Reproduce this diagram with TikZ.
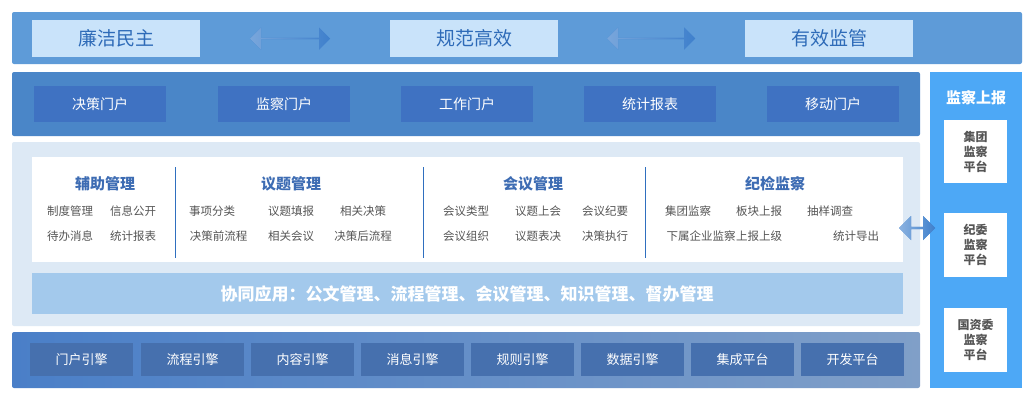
\documentclass[tikz,border=0pt]{standalone}
\usepackage{fontspec}
\setmainfont{Noto Sans CJK SC}
\usetikzlibrary{shapes.arrows}
\definecolor{topband}{HTML}{5E9BD8}
\definecolor{topbox}{HTML}{C9E3FA}
\definecolor{topfg}{HTML}{2E6BB8}
\definecolor{band2}{HTML}{4A86C8}
\definecolor{btn2}{HTML}{3F72C2}
\definecolor{rpanel}{HTML}{4DA8F6}
\definecolor{midband}{HTML}{DDE9F5}
\definecolor{coop}{HTML}{A3C9EC}
\definecolor{divc}{HTML}{2F6FBF}
\definecolor{ttl}{HTML}{3D6CB3}
\definecolor{itm}{HTML}{555555}
\definecolor{botA}{HTML}{4A7FC8}
\definecolor{botB}{HTML}{809FC8}
\definecolor{botbtn}{HTML}{4670AE}
\definecolor{arrc}{HTML}{3F80CC}
\tikzset{
 topbx/.style={fill=topbox,text=topfg,font=\fontsize{19}{19}\selectfont},
 btnbx/.style={fill=btn2,text=white,font=\fontsize{14}{14}\selectfont},
 botbx/.style={fill=botbtn,text=white,font=\fontsize{13}{13}\selectfont},
 sect/.style={text=ttl,font=\bfseries\fontsize{15}{15}\selectfont},
 item/.style={text=itm,font=\fontsize{11.5}{12}\selectfont},
 rbox/.style={fill=white,text=itm,font=\bfseries\fontsize{12}{15}\selectfont,align=center},
 dbl/.style={double arrow,fill=arrc,draw=none,double arrow head extend=3pt,inner sep=0pt}
}
\begin{document}
\begin{tikzpicture}[x=1pt,y=-1pt]
\useasboundingbox[fill=white] (0,0) rectangle (1036,400);
% top band
\fill[topband,rounded corners=2pt] (12,12) rectangle (1022,64);
\foreach \n/\a/\t in {t1/32/廉洁民主,t2/390/规范高效,t3/745/有效监管}{
 \path[topbx] (\a,20) rectangle ++(168,37);
 \node[text=topfg,font=\fontsize{19}{19}\selectfont] (\n) at (\a+84,38.5) {\t};}
\node[dbl,minimum height=80pt,minimum width=22pt,left color=arrc!70!white,right color=arrc] (a1) at (290,38.5) {};
\node[dbl,minimum height=88pt,minimum width=22pt,left color=arrc!70!white,right color=arrc] (a2) at (651,38.5) {};
% second band
\fill[band2,rounded corners=2pt] (12,72) rectangle (920,136);
\foreach \n/\a/\t in {p1/34/决策门户,p2/218/监察门户,p3/401/工作门户,p4/584/统计报表,p5/767/移动门户}{
 \fill[btn2] (\a,86) rectangle ++(132,36);
 \node[text=white,font=\fontsize{14}{14}\selectfont] (\n) at (\a+66,104) {\t};}
% right panel
\fill[rpanel] (930,72) rectangle (1022,388);
\node[text=white,font=\bfseries\fontsize{15}{15}\selectfont] (rt) at (976,98) {监察上报};
\node[rbox,minimum width=63pt,minimum height=63pt] (r1) at (975.5,151.5) {集团\\监察\\平台};
\node[rbox,minimum width=63pt,minimum height=64pt] (r2) at (975.5,245) {纪委\\监察\\平台};
\node[rbox,minimum width=63pt,minimum height=64pt] (r3) at (975.5,340) {国资委\\监察\\平台};
% middle band
\fill[midband,rounded corners=2pt] (12,142) rectangle (920,326);
\fill[white] (32,157) rectangle (903,262);
\fill[coop] (32,273) rectangle (903,314);
\node[text=white,font=\bfseries\fontsize{17}{17}\selectfont] (coopt) at (467,294) {协同应用：公文管理、流程管理、会议管理、知识管理、督办管理};
\foreach \x in {175,423,645}{\draw[divc,line width=0.8pt] (\x,167) -- (\x,258);}
\node[sect] (s1) at (105,184) {辅助管理};
\node[sect] (s2) at (291,184) {议题管理};
\node[sect] (s3) at (533,184) {会议管理};
\node[sect] (s4) at (775,184) {纪检监察};
\foreach \x/\t/\u in {70/制度管理/待办消息,133/信息公开/统计报表,
 212/事项分类/,291/议题填报/相关会议,363/相关决策/决策后流程,
 466/会议类型/会议组织,538/议题上会/议题表决,605/会议纪要/决策执行,
 688/集团监察/,759/板块上报/上报上级}{
 \node[item] at (\x,211) {\t};
 \node[item] at (\x,236) {\u};}
\node[item] at (218.5,236) {决策前流程};
\node[item] at (830,211) {抽样调查};
\node[item] at (701,236) {下属企业监察};
\node[item] at (856,236) {统计导出};
\node[item] at (788,236) {};
% side arrow
\node[dbl,minimum height=36pt,minimum width=24pt,left color=arrc!60!white,right color=arrc,double arrow head extend=2pt] (a3) at (917,228) {};
% bottom band
\shade[left color=botA,right color=botB,rounded corners=2pt] (12,332) rectangle (920,388);
\foreach \n/\a/\t in {b1/30/门户引擎,b2/141/流程引擎,b3/251/内容引擎,b4/361/消息引擎,b5/471/规则引擎,b6/581/数据引擎,b7/691/集成平台,b8/801/开发平台}{
 \fill[botbtn] (\a,343) rectangle ++(103,33);
 \node[text=white,font=\fontsize{13}{13}\selectfont] (\n) at (\a+51.5,359.5) {\t};}
\end{tikzpicture}
\end{document}
